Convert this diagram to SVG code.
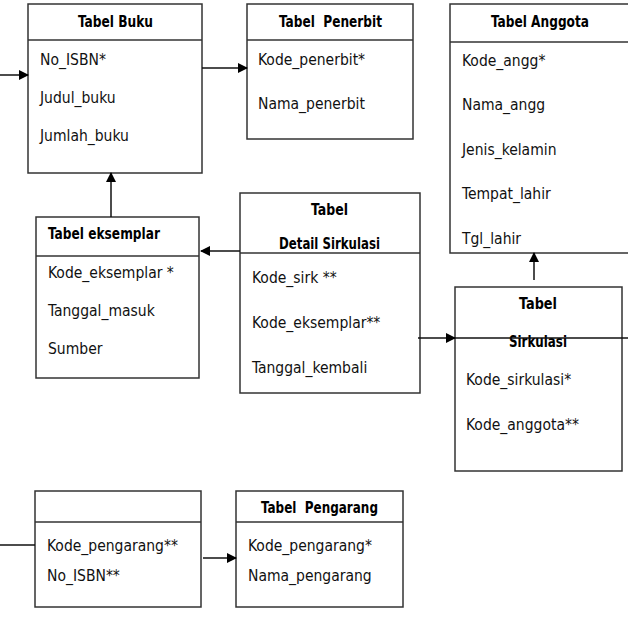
<svg xmlns="http://www.w3.org/2000/svg" width="628" height="620" viewBox="0 0 628 620">
<defs>
<marker id="ah" markerWidth="10" markerHeight="10" refX="9" refY="5" orient="auto" markerUnits="userSpaceOnUse">
<path d="M0,0 L10,5 L0,10 Z" fill="#000"/>
</marker>
<style>
.box{fill:#fff;stroke:#333;stroke-width:1.5}
.div{stroke:#333;stroke-width:1.5}
.t{font-family:"DejaVu Sans Condensed","DejaVu Sans",sans-serif;font-stretch:condensed;font-size:15.5px;fill:#111}
.h{font-family:"DejaVu Sans Condensed","DejaVu Sans",sans-serif;font-stretch:condensed;font-size:15.5px;font-weight:bold;fill:#000}
.c{stroke:#111;stroke-width:1.5;fill:none}
</style>
</defs>
<rect width="628" height="620" fill="#fff"/>
<g id="buku">
<rect class="box" x="28" y="4" width="174" height="169"/>
<line class="div" x1="28" y1="40" x2="202" y2="40"/>
<text class="h" x="78" y="27" textLength="75" lengthAdjust="spacingAndGlyphs">Tabel Buku</text>
<text class="t" x="40" y="65">No_ISBN*</text>
<text class="t" x="40" y="103">Judul_buku</text>
<text class="t" x="40" y="141">Jumlah_buku</text>
</g>
<g id="penerbit">
<rect class="box" x="247" y="4" width="166" height="135"/>
<line class="div" x1="247" y1="40" x2="413" y2="40"/>
<text class="h" x="279" y="27" textLength="103" lengthAdjust="spacingAndGlyphs" xml:space="preserve">Tabel  Penerbit</text>
<text class="t" x="258" y="65">Kode_penerbit*</text>
<text class="t" x="258" y="109">Nama_penerbit</text>
</g>
<g id="anggota">
<rect class="box" x="450" y="4" width="180" height="249"/>
<line class="div" x1="450" y1="42" x2="630" y2="42"/>
<text class="h" x="491" y="27" textLength="98" lengthAdjust="spacingAndGlyphs">Tabel Anggota</text>
<text class="t" x="462" y="66">Kode_angg*</text>
<text class="t" x="462" y="110">Nama_angg</text>
<text class="t" x="462" y="155">Jenis_kelamin</text>
<text class="t" x="462" y="199">Tempat_lahir</text>
<text class="t" x="462" y="244">Tgl_lahir</text>
</g>
<g id="eksemplar">
<rect class="box" x="36" y="217" width="163" height="161"/>
<line class="div" x1="36" y1="256" x2="199" y2="256"/>
<text class="h" x="48" y="239" textLength="112" lengthAdjust="spacingAndGlyphs">Tabel eksemplar</text>
<text class="t" x="48" y="278">Kode_eksemplar *</text>
<text class="t" x="48" y="316">Tanggal_masuk</text>
<text class="t" x="48" y="354">Sumber</text>
</g>
<g id="detail">
<rect class="box" x="240" y="193" width="180" height="200"/>
<line class="div" x1="240" y1="253" x2="420" y2="253"/>
<text class="h" x="311" y="215" textLength="37" lengthAdjust="spacingAndGlyphs">Tabel</text>
<text class="h" x="279" y="249" textLength="101" lengthAdjust="spacingAndGlyphs">Detail Sirkulasi</text>
<text class="t" x="252" y="283">Kode_sirk **</text>
<text class="t" x="252" y="328">Kode_eksemplar**</text>
<text class="t" x="252" y="373">Tanggal_kembali</text>
</g>
<g id="sirkulasi">
<rect class="box" x="455" y="287" width="167" height="184"/>
<text class="h" x="519" y="309" textLength="38" lengthAdjust="spacingAndGlyphs">Tabel</text>
<text class="h" x="509" y="347" textLength="58" lengthAdjust="spacingAndGlyphs">Sirkulasi</text>
<text class="t" x="466" y="385">Kode_sirkulasi*</text>
<text class="t" x="466" y="430">Kode_anggota**</text>
</g>
<g id="relasi">
<rect class="box" x="35" y="491" width="166" height="116"/>
<line class="div" x1="35" y1="522" x2="201" y2="522"/>
<text class="t" x="47" y="551">Kode_pengarang**</text>
<text class="t" x="47" y="581">No_ISBN**</text>
</g>
<g id="pengarang">
<rect class="box" x="236" y="491" width="167" height="116"/>
<line class="div" x1="236" y1="522" x2="403" y2="522"/>
<text class="h" x="261" y="513" textLength="117" lengthAdjust="spacingAndGlyphs" xml:space="preserve">Tabel  Pengarang</text>
<text class="t" x="248" y="551">Kode_pengarang*</text>
<text class="t" x="248" y="581">Nama_pengarang</text>
</g>
<g id="connectors">
<line class="c" x1="0" y1="75" x2="28" y2="75" marker-end="url(#ah)"/>
<line class="c" x1="202" y1="68" x2="247" y2="68" marker-end="url(#ah)"/>
<line class="c" x1="111" y1="217" x2="111" y2="173" marker-end="url(#ah)"/>
<line class="c" x1="240" y1="251" x2="201" y2="251" marker-end="url(#ah)"/>
<line class="c" x1="418" y1="338" x2="455" y2="338" marker-end="url(#ah)"/>
<line class="c" x1="455" y1="338" x2="628" y2="338"/>
<line class="c" x1="534" y1="280" x2="534" y2="253" marker-end="url(#ah)"/>
<line class="c" x1="0" y1="545" x2="35" y2="545"/>
<line class="c" x1="203" y1="558" x2="236" y2="558" marker-end="url(#ah)"/>
</g>
</svg>
